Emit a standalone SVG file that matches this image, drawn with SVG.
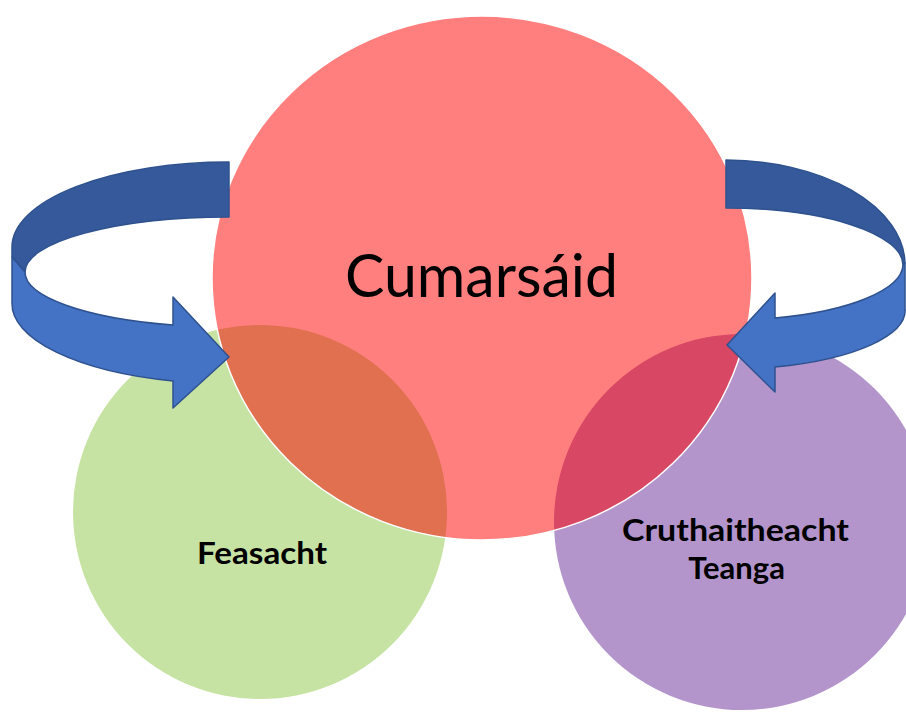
<svg xmlns="http://www.w3.org/2000/svg" width="906" height="713" viewBox="0 0 906 713">
  <style>
    .lbl { font-family: Lato, "Liberation Sans", sans-serif; fill: #000; text-anchor: middle; }
    .big { font-size: 60px; }
    .bold { font-size: 31px; font-weight: bold; }
    .back { fill: #35599A; stroke: #2F528F; stroke-width: 1.5; stroke-linejoin: round; }
    .front { fill: #4472C4; stroke: #2F528F; stroke-width: 1.5; stroke-linejoin: round; }
  </style>
  <defs>
    <clipPath id="clipGreen"><circle cx="260" cy="512" r="187"/></clipPath>
    <clipPath id="clipPurple"><circle cx="742" cy="522" r="188"/></clipPath>
  </defs>
  <rect width="906" height="713" fill="#FFFFFF"/>

  <g id="node-feasacht">
    <circle cx="260" cy="512" r="187" fill="#C6E3A4"/>
  </g>
  <g id="node-cruthaitheacht">
    <circle cx="742" cy="522" r="188" fill="#B395CC"/>
  </g>
  <g id="node-cumarsaid">
    <ellipse cx="482" cy="278" rx="270" ry="262" fill="#FF7F7F"/>
  </g>
  <g id="overlaps">
    <ellipse cx="482" cy="278" rx="270" ry="262" fill="#E07050" clip-path="url(#clipGreen)"/>
    <ellipse cx="482" cy="278" rx="270" ry="262" fill="#D84763" clip-path="url(#clipPurple)"/>
    <ellipse cx="482" cy="278" rx="270" ry="262" fill="none" stroke="#FFFFFF" stroke-width="1.5"/>
  </g>

  <g id="labels">
    <text class="lbl big" x="481.5" y="297" textLength="273" lengthAdjust="spacingAndGlyphs">Cumarsáid</text>
    <text class="lbl bold" x="262" y="564" textLength="130" lengthAdjust="spacingAndGlyphs">Feasacht</text>
    <text class="lbl bold" x="735.5" y="541" textLength="227" lengthAdjust="spacingAndGlyphs">Cruthaitheacht</text>
    <text class="lbl bold" x="736.5" y="579">Teanga</text>
  </g>

  <g id="connectors">
    <g id="arrow-left">
      <path class="back" d="M229,162 A217,85 0 0 0 12,247 L12,257 L25,272 A204,55 0 0 1 229,217 Z"/>
      <path class="front" d="M12,257 L25,272 A204,55 0 0 0 173,325 L173,297 L229,357 L173,408 L173,381 A217,80 0 0 1 12,303 Z"/>
    </g>
    <g id="arrow-right">
      <path class="back" d="M726,160 A180,105 0 0 1 905,263 L903,265 A177,57 0 0 0 726,208 Z"/>
      <path class="front" d="M905,263 L903,265 A177,56 0 0 1 775,318 L775,293 L727,345 L775,392 L775,367 A180,59 0 0 0 905,308 Z"/>
    </g>
  </g>
</svg>
